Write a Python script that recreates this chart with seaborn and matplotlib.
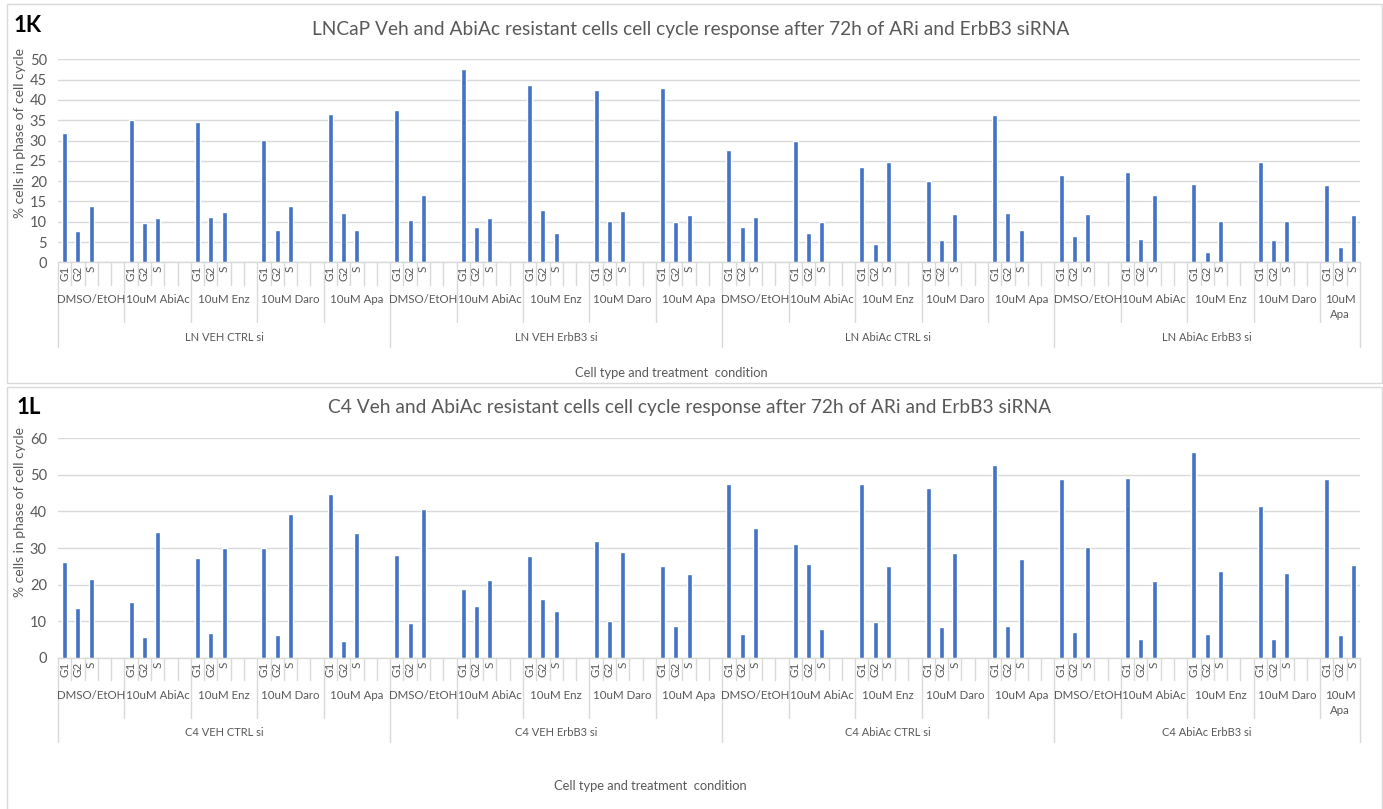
import numpy as np
import pandas as pd
import matplotlib
matplotlib.use("Agg")
import matplotlib.pyplot as plt
import matplotlib.transforms as mtransforms
from matplotlib.patches import Rectangle
import seaborn as sns

# ---- data -------------------------------------------------------------
treatments = ["DMSO/EtOH", "10uM AbiAc", "10uM Enz", "10uM Daro", "10uM Apa"]
phases = ["G1", "G2", "S"]

groups_K = ["LN VEH CTRL si", "LN VEH ErbB3 si", "LN AbiAc CTRL si", "LN AbiAc ErbB3 si"]
g1_K = [31.8, 35.1, 34.6, 30.1, 36.5, 37.6, 47.5, 43.7, 42.4, 42.9,
        27.6, 30.0, 23.5, 20.1, 36.2, 21.5, 22.3, 19.3, 24.8, 19.0]
g2_K = [7.7, 9.7, 11.2, 8.0, 12.1, 10.4, 8.8, 13.0, 10.2, 9.9,
        8.8, 7.1, 4.6, 5.5, 12.1, 6.6, 5.7, 2.6, 5.5, 3.8]
s_K = [13.8, 11.0, 12.4, 13.8, 8.0, 16.5, 10.8, 7.1, 12.6, 11.6,
       11.2, 9.9, 24.8, 11.8, 8.0, 11.8, 16.5, 10.2, 10.2, 11.6]

groups_L = ["C4 VEH CTRL si", "C4 VEH ErbB3 si", "C4 AbiAc CTRL si", "C4 AbiAc ErbB3 si"]
g1_L = [26.2, 15.1, 27.4, 29.9, 44.9, 28.1, 18.8, 27.7, 32.0, 25.0,
        47.4, 31.1, 47.4, 46.5, 52.6, 49.0, 49.2, 56.3, 41.6, 49.0]
g2_L = [13.6, 5.6, 6.7, 6.2, 4.6, 9.6, 14.2, 16.0, 9.9, 8.7,
        6.5, 25.6, 9.8, 8.4, 8.7, 7.1, 5.0, 6.5, 5.0, 6.2]
s_L = [21.5, 34.5, 29.9, 39.4, 34.2, 40.7, 21.2, 12.7, 28.9, 22.9,
       35.5, 7.8, 25.1, 28.6, 27.1, 30.2, 21.0, 23.7, 23.2, 25.3]

title_K = "LNCaP Veh and AbiAc resistant cells cell cycle response after 72h of ARi and ErbB3 siRNA"
title_L = "C4 Veh and AbiAc resistant cells cell cycle response after 72h of ARi and ErbB3 siRNA"
ylabel = "% cells in phase of cell cycle"
xlabel = "Cell type and treatment  condition"

# ---- style ------------------------------------------------------------
sns.set_theme(style="white")
plt.rcParams["font.family"] = ["Lato", "DejaVu Sans"]

BAR = "#4472C4"
GRID = "#D9D9D9"
TXT = "#595959"

W, H = 1383, 809
fig = plt.figure(figsize=(W / 100, H / 100), dpi=100)
fig.patch.set_facecolor("white")

SLOTS_PER_TREAT = 5
N_SLOTS = len(groups_K) * len(treatments) * SLOTS_PER_TREAT - 2  # last block has no trailing gaps


def fx(px):
    return px / W


def fy(py):
    return 1 - py / H


def build_frame(groups, g1, g2, s):
    rows = []
    for gi, g in enumerate(groups):
        for ti, t in enumerate(treatments):
            k = gi * len(treatments) + ti
            for pi, (ph, vals) in enumerate(zip(phases, (g1, g2, s))):
                rows.append(dict(group=g, treatment=t, phase=ph,
                                 pct=vals[k],
                                 slot=k * SLOTS_PER_TREAT + pi))
    return pd.DataFrame(rows)


def draw_panel(groups, g1, g2, s, box, ax_px, ymax, ystep, rows):
    # panel frame
    x0, y0, x1, y1 = box
    fig.add_artist(Rectangle((fx(x0), fy(y1)), fx(x1 - x0), (y1 - y0) / H,
                             transform=fig.transFigure, fill=False,
                             edgecolor=GRID, lw=1.0))
    left, top, right, bottom = ax_px
    ax = fig.add_axes([fx(left), fy(bottom), fx(right - left), (bottom - top) / H])
    df = build_frame(groups, g1, g2, s)
    sns.barplot(data=df, x="slot", y="pct", native_scale=True, width=0.38,
                color=BAR, saturation=1, errorbar=None, ax=ax, zorder=3)
    ax.set_xlim(-0.5, N_SLOTS - 0.5)
    ax.set_ylim(0, ymax)
    ax.set_yticks(np.arange(0, ymax + 0.1, ystep))
    ax.yaxis.grid(True, color=GRID, lw=1.0, zorder=0)
    ax.xaxis.grid(False)
    ax.set_axisbelow(True)
    for sp in ("top", "right", "left"):
        ax.spines[sp].set_visible(False)
    ax.spines["bottom"].set_color(GRID)
    ax.spines["bottom"].set_linewidth(1.0)
    ax.set_xticks([])
    ax.set_xlabel("")
    ax.set_ylabel("")
    ax.tick_params(axis="y", length=0, labelsize=10.5, labelcolor=TXT, pad=8)
    ax.set_facecolor("none")

    tr = mtransforms.blended_transform_factory(ax.transData, fig.transFigure)
    slot_end, treat_end, group_end, slot_lab, treat_lab, group_lab = rows

    # category separators below the axis
    for k in range(N_SLOTS + 1):
        xb = k - 0.5
        if k % 25 == 0 or k == N_SLOTS:
            yend = group_end
        elif k % 5 == 0:
            yend = treat_end
        else:
            yend = slot_end
        ax.plot([xb, xb], [fy(bottom), fy(yend)], transform=tr, color=GRID,
                lw=1.0, clip_on=False, zorder=1)

    # phase labels
    for _, r in df.iterrows():
        ax.text(r["slot"], fy(slot_lab), r["phase"], transform=tr, rotation=90,
                ha="center", va="top", fontsize=8.5, color=TXT)

    # treatment labels
    for gi in range(len(groups)):
        for ti, t in enumerate(treatments):
            start = (gi * len(treatments) + ti) * SLOTS_PER_TREAT
            end = min(start + SLOTS_PER_TREAT, N_SLOTS)
            label = t if end - start == SLOTS_PER_TREAT else t.replace(" ", "\n")
            ax.text((start + end - 1) / 2, fy(treat_lab), label, transform=tr,
                    ha="center", va="top", fontsize=8.3, color=TXT,
                    linespacing=1.4)

    # group labels
    for gi, g in enumerate(groups):
        start = gi * 25
        end = min(start + 25, N_SLOTS)
        ax.text((start + end - 1) / 2, fy(group_lab), g, transform=tr,
                ha="center", va="top", fontsize=8, color=TXT)

    return ax


axK = draw_panel(groups_K, g1_K, g2_K, s_K,
                 box=(7, 4, 1382, 383), ax_px=(58, 59.3, 1360, 262.3),
                 ymax=50, ystep=5,
                 rows=(285, 322, 347, 266, 294, 332))
fig.text(fx(691), fy(29), title_K, ha="center", va="center", fontsize=13.8, color=TXT)
fig.text(fx(14), fy(25), "1K", ha="left", va="center", fontsize=16,
         fontweight="bold", color="black")
fig.text(fx(20), fy(133), ylabel, rotation=90, ha="center", va="center",
         fontsize=10, color=TXT)
fig.text(fx(671), fy(373), xlabel, ha="center", va="center", fontsize=9.3, color=TXT)

axL = draw_panel(groups_L, g1_L, g2_L, s_L,
                 box=(7, 387, 1382, 812), ax_px=(58, 438.3, 1360, 657.7),
                 ymax=60, ystep=10,
                 rows=(680, 718, 742, 662, 690, 727))
fig.text(fx(690), fy(408), title_L, ha="center", va="center", fontsize=13.8, color=TXT)
fig.text(fx(17), fy(408), "1L", ha="left", va="center", fontsize=16,
         fontweight="bold", color="black")
fig.text(fx(20), fy(512), ylabel, rotation=90, ha="center", va="center",
         fontsize=10, color=TXT)
fig.text(fx(650), fy(786), xlabel, ha="center", va="center", fontsize=9.3, color=TXT)

fig.savefig("out.png", dpi=100, facecolor="white")
